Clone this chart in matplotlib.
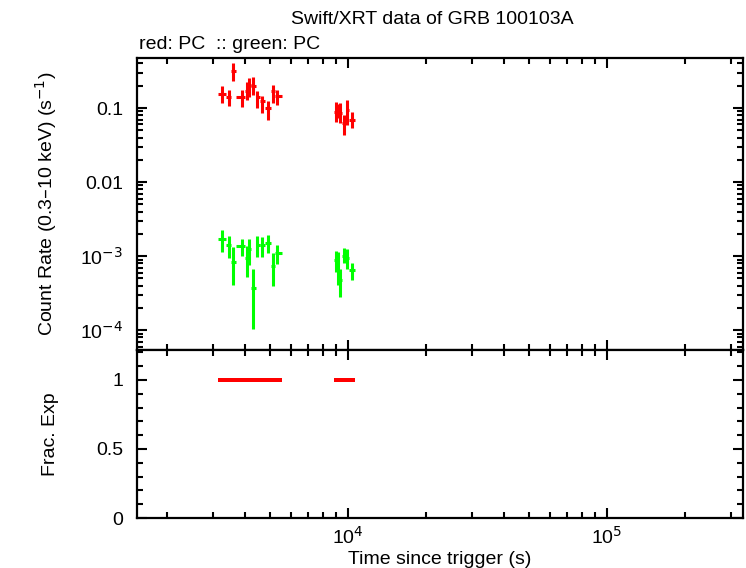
import matplotlib
matplotlib.use("Agg")
import matplotlib.pyplot as plt
from matplotlib.ticker import FixedLocator, FuncFormatter, LogLocator, NullFormatter, MultipleLocator
import numpy as np

plt.rcParams['font.family'] = ['Liberation Sans', 'DejaVu Sans']
plt.rcParams['font.size'] = 14

# time bins (s): centre, lower edge, upper edge
t_mid = [3262, 3462, 3607, 3887, 4064, 4149, 4310, 4466, 4668, 4923, 5120, 5333,
         8990, 9150, 9313, 9650, 9885, 10334]
t_lo = [3148, 3379, 3535, 3679, 4003, 4111, 4223, 4395, 4554, 4781, 5020, 5226,
        8790, 9070, 9232, 9480, 9780, 10090]
t_hi = [3379, 3535, 3679, 4003, 4111, 4223, 4395, 4554, 4781, 5020, 5226, 5564,
        9070, 9232, 9480, 9780, 10090, 10642]

# red: PC count rate with upper / lower bounds
red_rate = [0.155, 0.139, 0.313, 0.139, 0.171, 0.205, 0.196, 0.139, 0.125, 0.100, 0.168, 0.144,
            0.088, 0.094, 0.0856, 0.0627, 0.094, 0.069]
red_up = [0.196, 0.177, 0.405, 0.177, 0.224, 0.254, 0.260, 0.170, 0.145, 0.124, 0.207, 0.177,
          0.120, 0.113, 0.117, 0.0805, 0.128, 0.088]
red_dn = [0.117, 0.105, 0.234, 0.102, 0.128, 0.141, 0.151, 0.100, 0.0856, 0.0695, 0.117, 0.111,
          0.065, 0.0733, 0.0627, 0.0432, 0.059, 0.0537]

# green: PC (second band)
grn_rate = [1.68e-3, 1.41e-3, 8.4e-4, 1.37e-3, 9.3e-4, 1.23e-3, 3.66e-4, 1.41e-3, 1.41e-3, 1.49e-3, 7.3e-4, 1.09e-3,
            9.0e-4, 8.1e-4, 4.7e-4, 1.0e-3, 9.4e-4, 6.5e-4]
grn_up = [2.24e-3, 1.86e-3, 1.34e-3, 1.73e-3, 1.37e-3, 1.68e-3, 6.6e-4, 1.86e-3, 1.79e-3, 1.92e-3, 1.09e-3, 1.41e-3,
          1.18e-3, 1.13e-3, 6.7e-4, 1.28e-3, 1.24e-3, 8.1e-4]
grn_dn = [1.14e-3, 9.3e-4, 4.06e-4, 1.0e-3, 5.25e-4, 7.6e-4, 1.05e-4, 9.6e-4, 9.6e-4, 1.09e-3, 3.94e-4, 7.8e-4,
          6.1e-4, 4.06e-4, 2.8e-4, 8.1e-4, 6.7e-4, 4.7e-4]

frac_exp = [1.0] * len(t_mid)

t_mid = np.array(t_mid)
xerr = [t_mid - np.array(t_lo), np.array(t_hi) - t_mid]

fig = plt.figure(figsize=(7.46, 5.68), dpi=100)
ax1 = fig.add_axes([0.1836, 0.3838, 0.8123, 0.5141])
ax2 = fig.add_axes([0.1836, 0.0880, 0.8123, 0.2958], sharex=ax1)

r = np.array(red_rate)
g = np.array(grn_rate)
ax1.errorbar(t_mid, r, xerr=xerr, yerr=[r - np.array(red_dn), np.array(red_up) - r],
             fmt='none', ecolor='#ff0000', elinewidth=2.2, capsize=0)
ax1.errorbar(t_mid, g, xerr=xerr, yerr=[g - np.array(grn_dn), np.array(grn_up) - g],
             fmt='none', ecolor='#00ff00', elinewidth=2.2, capsize=0)

# fractional exposure: one path, broken where consecutive bins don't touch
fx, fy = [], []
for i, (a, b, f) in enumerate(zip(t_lo, t_hi, frac_exp)):
    if i > 0 and a != t_hi[i - 1]:
        fx.append(np.nan)
        fy.append(np.nan)
    fx += [a, b]
    fy += [f, f]
ax2.plot(fx, fy, color='#ff0000', lw=2.6, solid_capstyle='butt', antialiased=False)

ax1.set_xscale('log')
ax1.set_yscale('log')
ax1.set_xlim(1531, 3.35e5)
ax1.set_ylim(5.4e-5, 0.474)
ax2.set_ylim(0, 1.217)


def ylab(v, pos):
    e = int(round(np.log10(v)))
    if e == -1:
        return '0.1'
    if e == -2:
        return '0.01'
    return r'10$^{%d}$' % e


def xlab(v, pos):
    e = int(round(np.log10(v)))
    return r'10$^{%d}$' % e


ax1.yaxis.set_major_locator(FixedLocator([1e-4, 1e-3, 1e-2, 1e-1]))
ax1.yaxis.set_major_formatter(FuncFormatter(ylab))
ax1.yaxis.set_minor_locator(LogLocator(base=10, subs=np.arange(2, 10)))
ax1.yaxis.set_minor_formatter(NullFormatter())

ax2.xaxis.set_major_locator(FixedLocator([1e4, 1e5]))
ax2.xaxis.set_major_formatter(FuncFormatter(xlab))
ax2.xaxis.set_minor_locator(LogLocator(base=10, subs=np.arange(2, 10)))
ax2.xaxis.set_minor_formatter(NullFormatter())
plt.setp(ax1.get_xticklabels(), visible=False)

ax2.yaxis.set_major_locator(FixedLocator([0, 0.5, 1]))
ax2.yaxis.set_major_formatter(FuncFormatter(lambda v, p: '%g' % v))
ax2.yaxis.set_minor_locator(MultipleLocator(0.1))

for ax in (ax1, ax2):
    for s in ax.spines.values():
        s.set_linewidth(1.6)
    ax.tick_params(which='both', direction='in', top=True, right=True, width=1.5, labelsize=14)
    ax.tick_params(which='major', length=7)
    ax.tick_params(which='minor', length=4)
    ax.tick_params(axis='y', pad=10)
    ax.tick_params(axis='x', pad=6)

ax1.set_ylabel('Count Rate (0.3\u201310 keV) (s$^{-1}$)', fontsize=14)
ax2.set_ylabel('Frac. Exp', fontsize=14)
ax2.set_xlabel('Time since trigger (s)', fontsize=14, labelpad=2)
ax1.yaxis.set_label_coords(-0.128, 0.5)
ax2.yaxis.set_label_coords(-0.128, 0.5)

fig.text(0.58, 0.965, 'Swift/XRT data of GRB 100103A', ha='center', va='center', fontsize=14)
fig.text(0.186, 0.922, 'red: PC  :: green: PC', ha='left', va='center', fontsize=14)

fig.savefig('out.png', dpi=100)
